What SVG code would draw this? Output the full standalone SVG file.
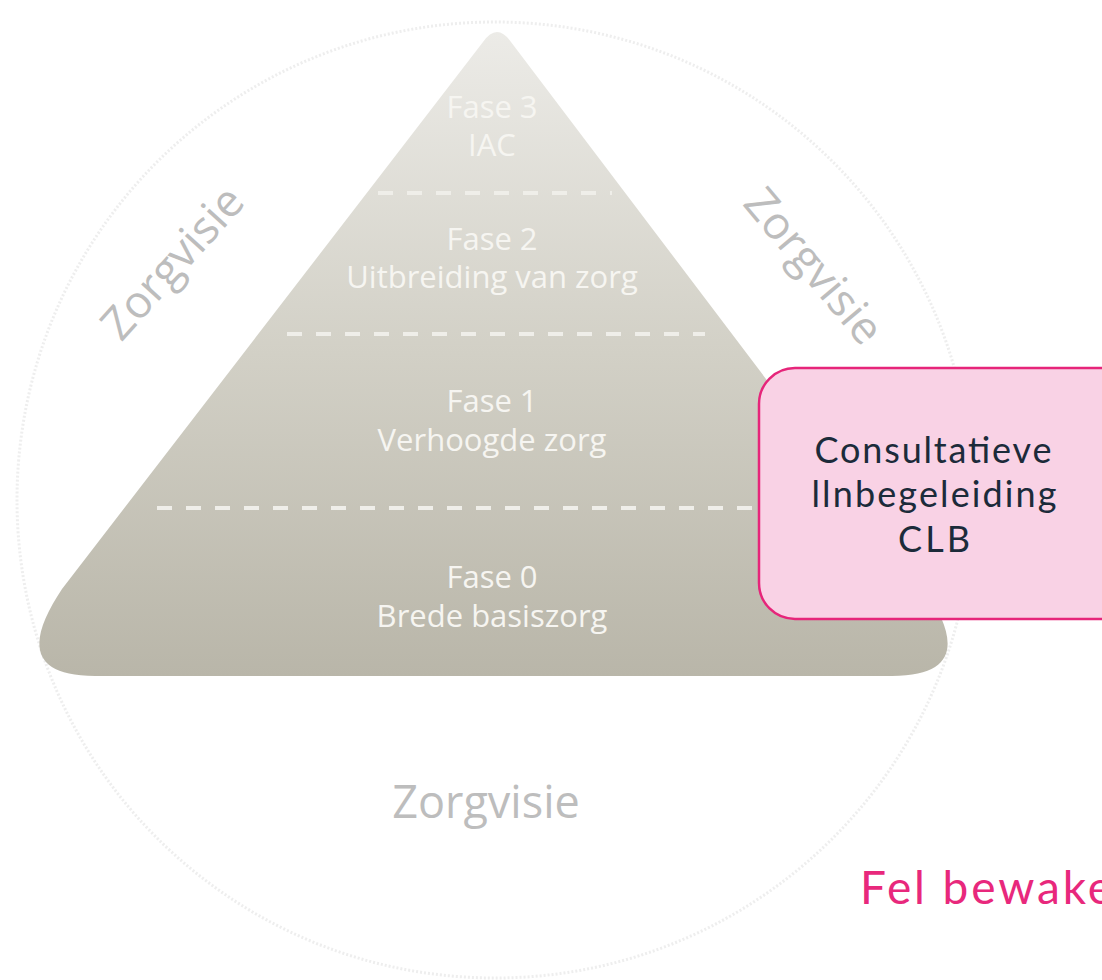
<svg xmlns="http://www.w3.org/2000/svg" width="1102" height="980" viewBox="0 0 1102 980">
<style>
.zv{font-family:"Open Sans","Liberation Sans",sans-serif;font-size:45px;fill:#bdbdbd;text-anchor:middle}
.ph{font-family:"Open Sans","Liberation Sans",sans-serif;font-size:31px;fill:#f6f5f1;text-anchor:middle}
.dash{stroke:#efeee9;stroke-width:4;stroke-dasharray:15 14;fill:none}
.clb{font-family:Lato,"Liberation Sans",sans-serif;font-size:36px;fill:#1c2b3a;text-anchor:middle}
</style>
<defs>
<linearGradient id="pg" x1="0" y1="0" x2="0" y2="1">
<stop offset="0" stop-color="#ecebe7"/>
<stop offset="0.5" stop-color="#d2d0c6"/>
<stop offset="1" stop-color="#b9b6a9"/>
</linearGradient>
</defs>
<rect width="1102" height="980" fill="#ffffff"/>
<g id="circle">
<circle cx="495" cy="500" r="478" fill="none" stroke="#eeeeee" stroke-width="3" stroke-dasharray="2 2"/>
</g>
<g id="pyramid">
<path d="M483,42 L62,589 C32,634 22,676 95,676 L892,676 C965,676 955,634 925,589 L511,42 Q497,22 483,42 Z" fill="url(#pg)"/>
<line class="dash" x1="378" y1="193" x2="612" y2="193"/>
<line class="dash" x1="287" y1="334" x2="705" y2="334"/>
<line class="dash" x1="157" y1="508" x2="770" y2="508"/>
</g>
<g id="fase3">
<text class="ph" x="492" y="118">Fase 3</text>
<text class="ph" x="492" y="156">IAC</text>
</g>
<g id="fase2">
<text class="ph" x="492" y="250">Fase 2</text>
<text class="ph" x="492" y="288">Uitbreiding van zorg</text>
</g>
<g id="fase1">
<text class="ph" x="492" y="412">Fase 1</text>
<text class="ph" x="492" y="451">Verhoogde zorg</text>
</g>
<g id="fase0">
<text class="ph" x="492" y="588">Fase 0</text>
<text class="ph" x="492" y="627">Brede basiszorg</text>
</g>
<g id="zorgvisie-left">
<text class="zv" transform="translate(184,273) rotate(-48)">Zorgvisie</text>
</g>
<g id="zorgvisie-right">
<text class="zv" transform="translate(802,276) rotate(50)">Zorgvisie</text>
</g>
<g id="zorgvisie-bottom">
<text class="zv" x="486" y="818">Zorgvisie</text>
</g>
<g id="clb-box">
<rect x="759" y="368" width="380" height="251" rx="36" ry="36" fill="#f9d2e5" stroke="#e6257a" stroke-width="2.5"/>
<text class="clb" x="933" y="463" textLength="237" lengthAdjust="spacing">Consultatieve</text>
<text class="clb" x="934" y="507" textLength="245" lengthAdjust="spacing">llnbegeleiding</text>
<text class="clb" x="934" y="552" textLength="72" lengthAdjust="spacing">CLB</text>
</g>
<g id="fel-bewake">
<text x="860" y="904" font-family="Lato,'Liberation Sans',sans-serif" font-size="46" fill="#e8287c" textLength="252" lengthAdjust="spacing">Fel bewake</text>
</g>
<g id="connectors"></g>
</svg>
